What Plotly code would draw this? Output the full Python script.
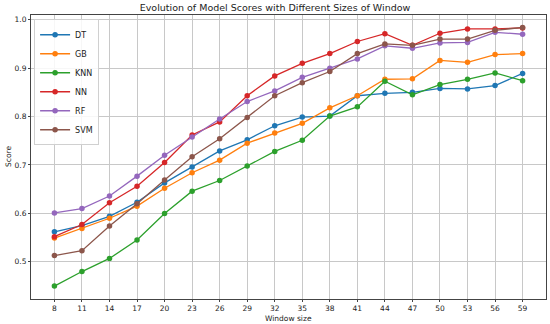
import plotly.graph_objects as go

window_sizes = [8, 11, 14, 17, 20, 23, 26, 29, 32, 35, 38, 41, 44, 47, 50, 53, 56, 59]
dt = [0.562, 0.575, 0.594, 0.623, 0.663, 0.696, 0.729, 0.752, 0.781, 0.799, 0.801, 0.843, 0.848, 0.850, 0.858, 0.857, 0.864, 0.889]
gb = [0.549, 0.569, 0.590, 0.615, 0.652, 0.684, 0.710, 0.745, 0.766, 0.786, 0.818, 0.843, 0.877, 0.878, 0.916, 0.912, 0.928, 0.930]
knn = [0.450, 0.480, 0.507, 0.545, 0.600, 0.646, 0.668, 0.698, 0.728, 0.751, 0.801, 0.820, 0.873, 0.845, 0.866, 0.877, 0.890, 0.874]
nn = [0.552, 0.577, 0.622, 0.656, 0.705, 0.762, 0.789, 0.843, 0.884, 0.910, 0.930, 0.955, 0.971, 0.947, 0.972, 0.981, 0.981, 0.983]
rf = [0.601, 0.610, 0.636, 0.677, 0.720, 0.758, 0.795, 0.831, 0.853, 0.881, 0.900, 0.919, 0.946, 0.941, 0.952, 0.953, 0.974, 0.970]
svm = [0.513, 0.523, 0.574, 0.620, 0.669, 0.717, 0.754, 0.798, 0.843, 0.870, 0.893, 0.930, 0.950, 0.947, 0.960, 0.960, 0.978, 0.984]

series_names = ["DT", "GB", "KNN", "NN", "RF", "SVM"]
series_values = [dt, gb, knn, nn, rf, svm]
colors = ["#1f77b4", "#ff7f0e", "#2ca02c", "#d62728", "#9467bd", "#8c564b"]
y_ticks = [0.5, 0.6, 0.7, 0.8, 0.9, 1.0]

font = "DejaVu Sans"
W, H = 550, 324
ML, MR, MT, MB = 31, 4, 15, 25
pw, ph = W - ML - MR, H - MT - MB

fig = go.Figure()
for name, vals, c in zip(series_names, series_values, colors):
    fig.add_trace(go.Scatter(
        x=window_sizes, y=vals, name=name, mode="lines+markers",
        line=dict(color=c, width=1.3),
        marker=dict(color=c, size=5.5),
    ))

fig.update_layout(
    width=W, height=H,
    margin=dict(l=ML, r=MR, t=MT, b=MB),
    paper_bgcolor="white", plot_bgcolor="white",
    font=dict(family=font, size=7.5, color="#222"),
    title=dict(text="Evolution of Model Scores with Different Sizes of Window",
               x=0.5, xanchor="center", y=1 - 8 / H, yanchor="middle",
               yref="container", font=dict(size=9.5, color="#222", family=font)),
    showlegend=True,
    legend=dict(x=0.006, y=0.985, xanchor="left", yanchor="top",
                bgcolor="rgba(255,255,255,0.85)", bordercolor="#d0d0d0", borderwidth=1,
                font=dict(size=8, family=font, color="#222"),
                itemwidth=30, tracegroupgap=0),
    annotations=[
        dict(text="Window size", xref="paper", yref="paper", x=0.5, y=-19 / ph,
             xanchor="center", yanchor="middle", showarrow=False,
             font=dict(size=7.5, family=font, color="#222")),
        dict(text="Score", xref="paper", yref="paper", x=-23 / pw, y=0.5,
             xanchor="center", yanchor="middle", showarrow=False, textangle=-90,
             font=dict(size=7.5, family=font, color="#222")),
    ],
)
fig.update_xaxes(
    range=[5.45, 61.55], tickvals=window_sizes, ticktext=[str(w) for w in window_sizes],
    showgrid=True, gridcolor="#c8c8c8", gridwidth=0.8,
    showline=True, linecolor="#444", linewidth=1, mirror=True,
    ticks="outside", ticklen=2, tickcolor="#444", zeroline=False,
    automargin=False,
)
fig.update_yaxes(
    range=[0.4233, 1.0097], tickvals=y_ticks, ticktext=[f"{v:.1f}" for v in y_ticks],
    showgrid=True, gridcolor="#c8c8c8", gridwidth=0.8,
    showline=True, linecolor="#444", linewidth=1, mirror=True,
    ticks="outside", ticklen=2, tickcolor="#444", zeroline=False,
    automargin=False,
)

fig.write_html("out.html", config={"displayModeBar": False},
               post_script="document.body.style.margin='0';")
